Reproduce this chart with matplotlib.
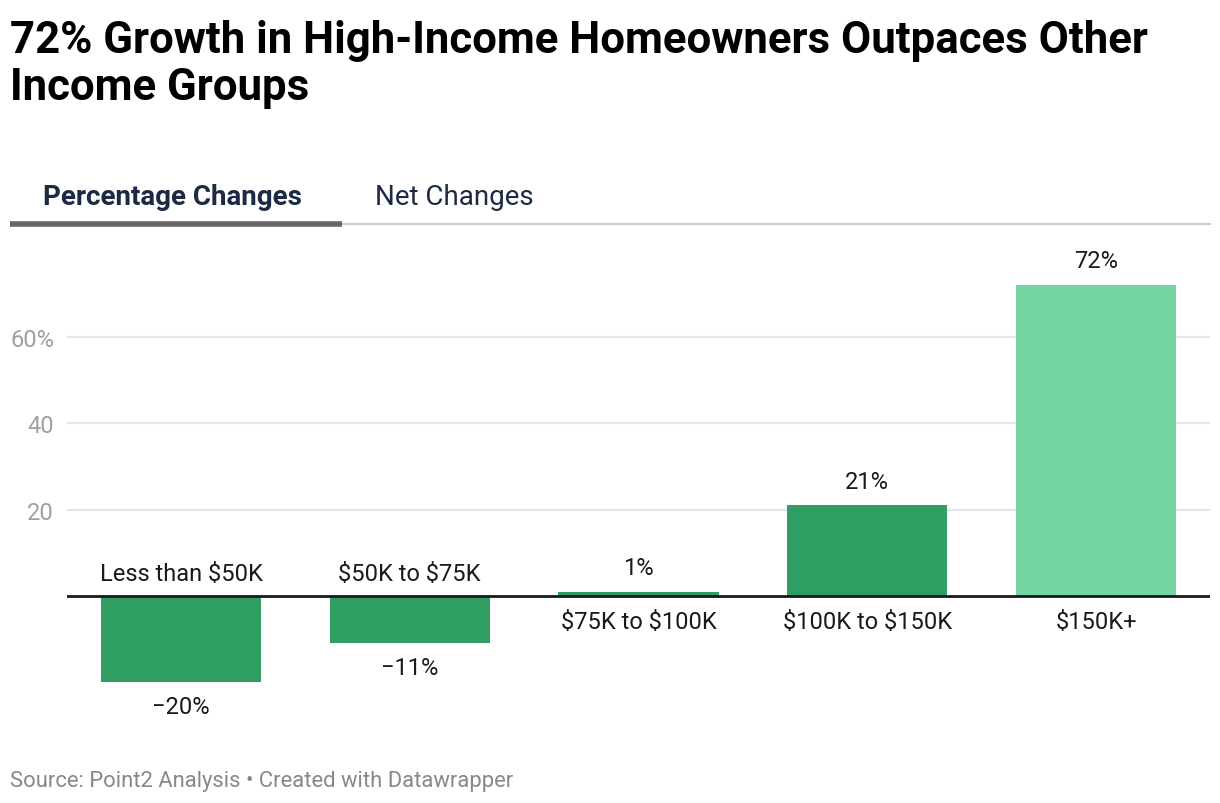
import matplotlib
matplotlib.use("Agg")
import matplotlib.pyplot as plt
from matplotlib.lines import Line2D
import numpy as np

plt.rcParams["font.family"] = ["Roboto", "DejaVu Sans"]
plt.rcParams["text.parse_math"] = False

# ── data ─────────────────────────────────────────────────────────────────────
categories = ["Less than $50K", "$50K to $75K", "$75K to $100K",
              "$100K to $150K", "$150K+"]
pct_change = [-20, -11, 1, 21, 72]
value_labels = ["\u221220%", "\u221211%", "1%", "21%", "72%"]
bar_colors = ["#2f9e63", "#2f9e63", "#2f9e63", "#2f9e63", "#74d5a3"]
y_ticks = [20, 40, 60]
y_ticklabels = ["20", "40", "60%"]

TITLE = "72% Growth in High-Income Homeowners Outpaces Other\nIncome Groups"
TABS = ["Percentage Changes", "Net Changes"]
SOURCE = "Source: Point2 Analysis \u2022 Created with Datawrapper"

W, H = 1220, 804
fig = plt.figure(figsize=(W / 100, H / 100), dpi=100)
fig.patch.set_facecolor("white")

def fx(px):
    return px / W

def fy(py):
    return 1 - py / H

# ── title / tabs / footer ────────────────────────────────────────────────────
# multiline text with va="baseline" sits on the last line's baseline
fig.text(fx(10), fy(100), TITLE, fontsize=31.5, fontweight="bold", color="#000000",
         ha="left", va="baseline", linespacing=1.15)

fig.text(fx(43), fy(205), TABS[0], fontsize=20, fontweight="bold", color="#1d2a44",
         ha="left", va="baseline")
fig.text(fx(375), fy(205), TABS[1], fontsize=20, color="#1d2a44",
         ha="left", va="baseline")
fig.add_artist(Line2D([fx(342), fx(1210)], [fy(225), fy(225)], color="#cccccc",
                      linewidth=1.5, transform=fig.transFigure))
fig.add_artist(Line2D([fx(10), fx(342)], [fy(225), fy(225)], color="#666666",
                      linewidth=4, solid_capstyle="butt", transform=fig.transFigure))

fig.text(fx(10), fy(787), SOURCE, fontsize=15.8, color="#888888",
         ha="left", va="baseline")

# ── bars ─────────────────────────────────────────────────────────────────────
ax = fig.add_axes([fx(66.6), fy(720), fx(1210.4) - fx(66.6), (720 - 250) / H])
x = np.arange(len(categories))
bars = ax.bar(x, pct_change, width=0.7, color=bar_colors, zorder=3)

ax.set_xlim(-0.5, len(categories) - 0.5)
ax.set_ylim(-28.5, 80.4)
ax.set_yticks(y_ticks)
ax.set_yticklabels(y_ticklabels, fontsize=17, color="#a0a0a0")
ax.tick_params(axis="y", length=0, pad=9)
ax.set_xticks([])
ax.grid(axis="y", color="#e5e5e5", linewidth=1.5, zorder=0)
ax.axhline(0, color="#1a1a1a", linewidth=2, zorder=4)
for s in ax.spines.values():
    s.set_visible(False)

for xi, v, vl, cat in zip(x, pct_change, value_labels, categories):
    if v >= 0:
        ax.annotate(vl, (xi, v), xytext=(0, 17.5), textcoords="offset points",
                    ha="center", va="center", fontsize=17, color="#1a1a1a")
        ax.annotate(cat, (xi, 0), xytext=(0, -18.5), textcoords="offset points",
                    ha="center", va="center", fontsize=17, color="#1a1a1a")
    else:
        ax.annotate(vl, (xi, v), xytext=(0, -17.5), textcoords="offset points",
                    ha="center", va="center", fontsize=17, color="#1a1a1a")
        ax.annotate(cat, (xi, 0), xytext=(0, 16.5), textcoords="offset points",
                    ha="center", va="center", fontsize=17, color="#1a1a1a")

fig.savefig("out.png", dpi=100, facecolor="white")
